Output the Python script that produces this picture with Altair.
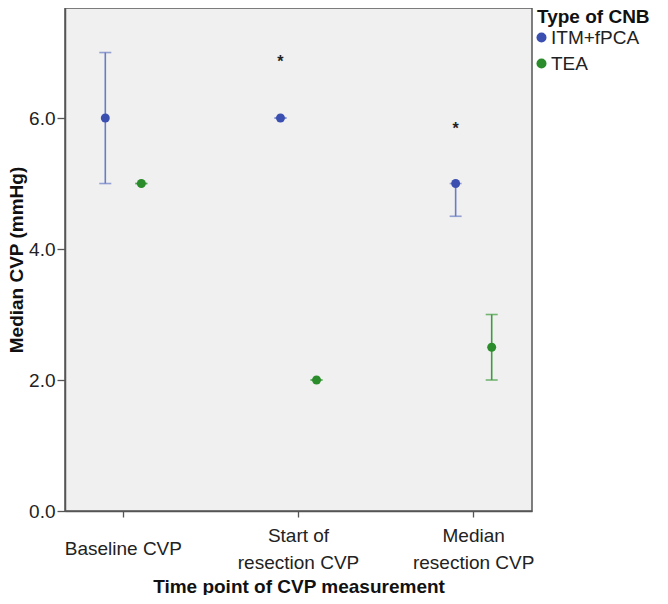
import altair as alt
import pandas as pd

categories = ["Baseline CVP", "Start of resection CVP", "Median resection CVP"]
groups = ["ITM+fPCA", "TEA"]

itm_median = [6.0, 6.0, 5.0]
itm_low = [5.0, 6.0, 4.5]
itm_high = [7.0, 6.0, 5.0]

tea_median = [5.0, 2.0, 2.5]
tea_low = [5.0, 2.0, 2.0]
tea_high = [5.0, 2.0, 3.0]

star_cats = ["Start of resection CVP", "Median resection CVP"]
star_y = [6.92, 5.9]

point_colors = ["#3a4fb0", "#2a8c2a"]
bar_colors = ["#6a7cc6", "#3f9b3f"]

rows = []
for i, c in enumerate(categories):
    rows.append({"cat": c, "group": groups[0], "median": itm_median[i], "lo": itm_low[i], "hi": itm_high[i]})
    rows.append({"cat": c, "group": groups[1], "median": tea_median[i], "lo": tea_low[i], "hi": tea_high[i]})
df = pd.DataFrame(rows)
stars = pd.DataFrame({"cat": star_cats, "group": [groups[0]] * 2, "y": star_y, "t": ["*", "*"]})

FONT = "Liberation Sans"

label_expr = ("datum.value == 'Start of resection CVP' ? ['Start of', 'resection CVP'] : "
              "datum.value == 'Median resection CVP' ? ['Median', 'resection CVP'] : datum.label")

x = alt.X("cat:N", sort=categories,
          scale=alt.Scale(paddingInner=0.334, paddingOuter=0),
          axis=alt.Axis(title="Time point of CVP measurement", labelAngle=0, labelExpr=label_expr,
                        labelBaseline="middle",
                        labelPadding={"condition": {"test": "datum.value == 'Baseline CVP'", "value": 31},
                                      "value": 18},
                        labelLineHeight=27,
                        tickSize=6, titleY=75, titleBaseline="middle"))
xo = alt.XOffset("group:N", sort=groups, scale=alt.Scale(paddingInner=0, paddingOuter=0.618))
yscale = alt.Scale(domain=[0, 7.68], nice=False, zero=True)
yaxis = alt.Axis(title="Median CVP (mmHg)", values=[0, 2, 4, 6], format=".1f", grid=False,
                 tickSize=8, labelPadding=2, titleX=-49, titleBaseline="middle")

bar_color = alt.Color("group:N", sort=groups, scale=alt.Scale(domain=groups, range=bar_colors), legend=None)

rules = alt.Chart(df).mark_rule(strokeWidth=1.6).encode(
    x=x, xOffset=xo, y=alt.Y("lo:Q", scale=yscale, axis=yaxis), y2="hi:Q", color=bar_color)
cap_lo = alt.Chart(df).mark_tick(size=12, thickness=1.6).encode(
    x=x, xOffset=xo, y=alt.Y("lo:Q", scale=yscale, axis=yaxis), color=bar_color)
cap_hi = alt.Chart(df).mark_tick(size=12, thickness=1.6).encode(
    x=x, xOffset=xo, y=alt.Y("hi:Q", scale=yscale, axis=yaxis), color=bar_color)

points = alt.Chart(df).mark_circle(size=80, opacity=1).encode(
    x=x, xOffset=xo, y=alt.Y("median:Q", scale=yscale, axis=yaxis),
    color=alt.Color("group:N", sort=groups, scale=alt.Scale(domain=groups, range=point_colors),
                    legend=alt.Legend(title="Type of CNB", orient="right", offset=5, padding=0,
                                      symbolType="circle", symbolSize=100, titlePadding=1,
                                      symbolOffset=-5, labelOffset=0, rowPadding=6)))

star_text = alt.Chart(stars).mark_text(fontSize=16, fontWeight="bold", color="#222", baseline="middle",
                                       dy=4, font=FONT).encode(
    x=x, xOffset=xo, y=alt.Y("y:Q", scale=yscale, axis=yaxis), text="t:N")

chart = alt.layer(rules, cap_lo, cap_hi, points, star_text).resolve_scale(color="independent").properties(
    width=467, height=503,
    autosize=alt.AutoSizeParams(type="none"),
    padding={"left": 57, "top": 0, "right": 128, "bottom": 84},
    background="white",
).configure_view(
    fill="#f0f0f0", stroke="#555555", strokeWidth=1.5
).configure_axis(
    labelFont=FONT, titleFont=FONT, labelFontSize=19, titleFontSize=19, titleFontWeight="bold",
    labelColor="#222", titleColor="#111", domainColor="#555", tickColor="#555", domainWidth=1.5, tickWidth=1.3
).configure_legend(
    labelFont=FONT, titleFont=FONT, labelFontSize=19, titleFontSize=19, titleFontWeight="bold",
    labelColor="#222", titleColor="#111"
)

chart.save("out.html", embed_options={"renderer": "svg", "actions": False})
